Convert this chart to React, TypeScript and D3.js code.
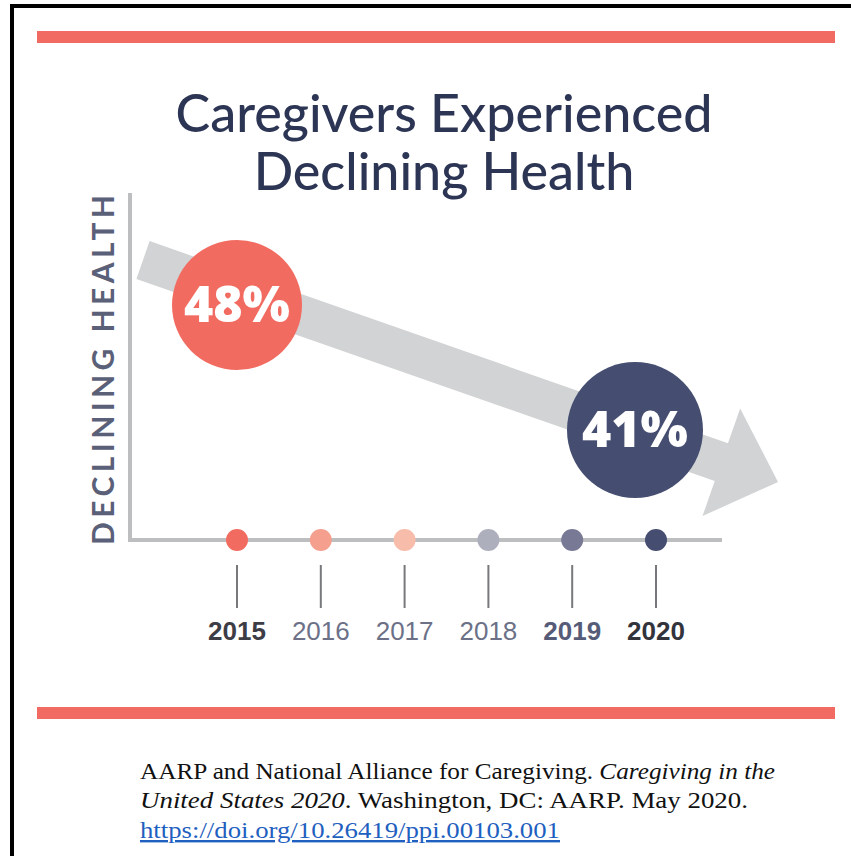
import React, { useRef, useEffect } from 'react'
import * as d3 from 'd3'

const years = ['2015', '2016', '2017', '2018', '2019', '2020']
const dotColors = ['#f26b60', '#f5a08f', '#f8bcab', '#aeafbd', '#787a95', '#454e70']
const boldYears = ['2015', '2019', '2020']
const yearColors = ['#3d3d45', '#6c7188', '#6c7188', '#6c7188', '#565b78', '#33343b']

const highlightYears = ['2015', '2020']
const highlightValues = [48, 41]
const highlightColors = ['#f26b60', '#454e70']

const titleLines = ['Caregivers Experienced', 'Declining Health']

const W = 851
const H = 856

const App = () => {
  const svgRef = useRef(null)

  useEffect(() => {
    const svg = d3.select(svgRef.current)
    svg.selectAll('*').remove()

    svg.append('rect').attr('width', W).attr('height', H).attr('fill', 'white')

    // frame
    svg.append('rect')
      .attr('x', 12).attr('y', 6)
      .attr('width', W).attr('height', H)
      .attr('fill', 'none').attr('stroke', '#000').attr('stroke-width', 4)

    // red rules
    ;[31, 707].forEach(y => {
      svg.append('rect').attr('x', 37).attr('y', y).attr('width', 798).attr('height', 12).attr('fill', '#f26b63')
    })

    // title
    svg.selectAll('.title')
      .data(titleLines)
      .join('text')
      .attr('class', 'title')
      .attr('x', 444)
      .attr('y', (d, i) => 132 + i * 58)
      .attr('text-anchor', 'middle')
      .attr('font-family', 'Lato, sans-serif')
      .attr('font-weight', 500)
      .attr('font-size', 52)
      .attr('fill', '#2c3554')
      .text(d => d)

    const x = d3.scalePoint().domain(years).range([237, 656])
    const y = d3.scaleLinear().domain([41, 48]).range([430, 305])
    const axisY = 540

    // gray trend arrow
    const start: [number, number] = [143, 260]
    const tip: [number, number] = [778, 482]
    const ang = Math.atan2(tip[1] - start[1], tip[0] - start[0])
    const len = Math.hypot(tip[0] - start[0], tip[1] - start[1])
    const half = 20, headHalf = 57, headLen = 60
    const arrow = svg.append('g')
      .attr('transform', `translate(${start[0]},${start[1]}) rotate(${(ang * 180) / Math.PI})`)
    arrow.append('path')
      .attr('d', d3.line()([
        [0, -half], [len - headLen, -half], [len - headLen, -headHalf], [len, 0],
        [len - headLen, headHalf], [len - headLen, half], [0, half]
      ]) + 'Z')
      .attr('fill', '#d1d3d4')

    // axes
    svg.append('path')
      .attr('d', `M130,193 V${axisY} H722`)
      .attr('fill', 'none')
      .attr('stroke', '#bcbec0')
      .attr('stroke-width', 4)

    svg.append('text')
      .attr('transform', `translate(114,370) rotate(-90)`)
      .attr('text-anchor', 'middle')
      .attr('font-family', 'Lato, sans-serif')
      .attr('font-weight', 'bold')
      .attr('font-size', 30)
      .attr('fill', '#5b6079')
      .attr('textLength', 350)
      .attr('lengthAdjust', 'spacing')
      .text('DECLINING HEALTH')

    // year dots
    svg.selectAll('.dot')
      .data(years)
      .join('circle')
      .attr('class', 'dot')
      .attr('cx', d => x(d))
      .attr('cy', axisY)
      .attr('r', 11)
      .attr('fill', (d, i) => dotColors[i])

    svg.selectAll('.tick')
      .data(years)
      .join('line')
      .attr('class', 'tick')
      .attr('x1', d => x(d)).attr('x2', d => x(d))
      .attr('y1', 565).attr('y2', 608)
      .attr('stroke', '#77787b')
      .attr('stroke-width', 2)

    svg.selectAll('.year')
      .data(years)
      .join('text')
      .attr('class', 'year')
      .attr('x', d => x(d))
      .attr('y', 640)
      .attr('text-anchor', 'middle')
      .attr('font-family', '"Liberation Sans", Arial, sans-serif')
      .attr('font-size', 26)
      .attr('font-weight', d => boldYears.includes(d) ? 'bold' : 'normal')
      .attr('fill', (d, i) => yearColors[i])
      .text(d => d)

    // value bubbles
    const bubbles = svg.selectAll('.bubble')
      .data(highlightValues)
      .join('g')
      .attr('class', 'bubble')
      .attr('transform', (d, i) => `translate(${x(highlightYears[i]) - (i ? 21 : 0)},${y(d)})`)
    bubbles.append('circle')
      .attr('r', (d, i) => i ? 68 : 65)
      .attr('fill', (d, i) => highlightColors[i])
    bubbles.append('text')
      .attr('text-anchor', 'middle')
      .attr('dy', 17)
      .attr('font-family', '"Open Sans", sans-serif')
      .attr('font-weight', 800)
      .attr('font-size', 50)
      .attr('fill', 'white')
      .text(d => `${d}%`)

    // citation
    const cite = svg.append('g')
      .attr('font-family', '"Liberation Serif", "Times New Roman", serif')
      .attr('font-size', 24)
      .attr('fill', '#111')
    const l1 = cite.append('text').attr('x', 140).attr('y', 779)
      .attr('textLength', 635).attr('lengthAdjust', 'spacingAndGlyphs')
    l1.append('tspan').text('AARP and National Alliance for Caregiving. ')
    l1.append('tspan').attr('font-style', 'italic').text('Caregiving in the')
    const l2 = cite.append('text').attr('x', 140).attr('y', 808)
      .attr('textLength', 608).attr('lengthAdjust', 'spacingAndGlyphs')
    l2.append('tspan').attr('font-style', 'italic').text('United States 2020')
    l2.append('tspan').text('. Washington, DC: AARP. May 2020.')
    cite.append('text').attr('x', 140).attr('y', 838)
      .attr('textLength', 420).attr('lengthAdjust', 'spacingAndGlyphs')
      .attr('fill', '#1f5fbf')
      .attr('text-decoration', 'underline')
      .text('https://doi.org/10.26419/ppi.00103.001')
  }, [])

  return (
    <div style={{ position: 'absolute', left: 0, top: 0 }}>
      <svg ref={svgRef} width={W} height={H} style={{ display: 'block' }}></svg>
    </div>
  )
}

export default App
